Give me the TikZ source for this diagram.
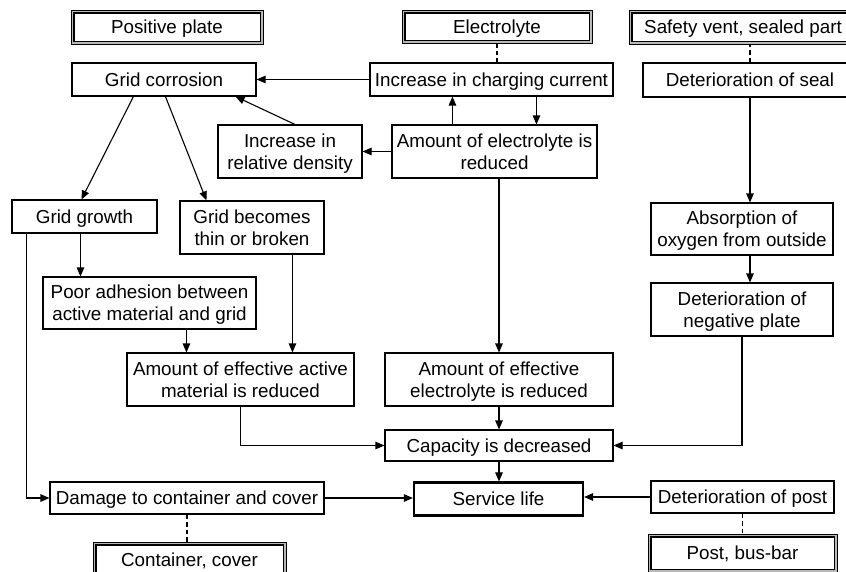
\documentclass[tikz,border=0pt]{standalone}
\usepackage{fontspec}
\setmainfont{Liberation Sans}
\usetikzlibrary{arrows.meta,calc}
\begin{document}
\begin{tikzpicture}[x=1pt,y=-1pt,
  every node/.style={font=\fontsize{18.8}{22}\selectfont, align=center, inner sep=0pt, text depth=0pt},
  box/.style={draw, line width=1.1pt, fill=white},
  dbox/.style={draw, line width=0.9pt, fill=gray!55,
    path picture={\draw[line width=1.8pt, fill=white]
      ([xshift=2.6pt,yshift=-2.6pt]path picture bounding box.north west) rectangle
      ([xshift=-2.6pt,yshift=2.6pt]path picture bounding box.south east);}},
  thickbox/.style={draw, line width=2.2pt, fill=white},
  arr/.style={line width=1.1pt, -{Triangle[length=9pt,width=7.5pt]}},
  dashlink/.style={line width=1.1pt, dash pattern=on 4.5pt off 3pt}]
\useasboundingbox (0,0) rectangle (846,571);
\clip (0,0) rectangle (846,571);
% header boxes
\node[dbox, minimum width=192, minimum height=34] (pos) at (167,27) {Positive plate};
\node[dbox, minimum width=190, minimum height=33] (elec) at (497,26.5) {Electrolyte};
\node[dbox, minimum width=228, minimum height=34] (vent) at (743,27) {Safety vent, sealed part};
\node[dbox, minimum width=193, minimum height=36] (cc) at (189.5,560) {Container, cover};
\node[dbox, minimum width=189, minimum height=38] (pbb) at (742.5,553) {Post, bus-bar};
% process boxes
\node[box, minimum width=184, minimum height=33] (gc) at (164,79.5) {Grid corrosion};
\node[box, minimum width=243, minimum height=33] (icc) at (491.5,79.5) {Increase in charging current};
\node[box, minimum width=214, minimum height=34] (seal) at (750,80) {Deterioration of seal};
\node[box, minimum width=144, minimum height=53] (ird) at (290,151.5) {Increase in\\relative density};
\node[box, minimum width=205, minimum height=53] (aer) at (494.5,151.5) {Amount of electrolyte is\\reduced};
\node[box, minimum width=145, minimum height=33] (gg) at (84.5,216.5) {Grid growth};
\node[box, minimum width=144, minimum height=53] (gtb) at (252,227.5) {Grid becomes\\thin or broken};
\node[box, minimum width=182, minimum height=52] (abs) at (742,229) {Absorption of\\oxygen from outside};
\node[box, minimum width=213, minimum height=52] (pa) at (149.5,303) {Poor adhesion between\\active material and grid};
\node[box, minimum width=182, minimum height=53] (neg) at (742,309.5) {Deterioration of\\negative plate};
\node[box, minimum width=227, minimum height=53] (eam) at (240.5,379.5) {Amount of effective active\\material is reduced};
\node[box, minimum width=228, minimum height=53] (eel) at (499,379.5) {Amount of effective\\electrolyte is reduced};
\node[box, minimum width=228, minimum height=31] (cap) at (499,445.5) {Capacity is decreased};
\node[box, minimum width=274, minimum height=32] (dmg) at (187,498) {Damage to container and cover};
\node[thickbox, minimum width=169, minimum height=33] (sl) at (498.5,499) {Service life};
\node[box, minimum width=183, minimum height=32] (dpost) at (742.5,497) {Deterioration of post};
% dashed links
\draw[dashlink] (elec.south) -- (elec.south |- icc.north);
\draw[dashlink] (seal.north) -- (seal.north |- vent.south);
\draw[dashlink] (dmg.south) -- (dmg.south |- cc.north);
\draw[dashlink] (dpost.south) -- (dpost.south |- pbb.north);
% arrows
\draw[arr] (icc.west) -- (gc.east);
\draw[arr] ($(ird.north)+(5,0)$) -- ($(gc.south east)+(-21,0)$);
\draw[arr] (aer.west) -- (ird.east);
\draw[arr] ($(aer.north west)+(61,0)$) coordinate (t1) -- (t1 |- icc.south);
\draw[arr] ($(icc.south west)+(167,0)$) coordinate (t2) -- (t2 |- aer.north);
\draw[arr] (eel.north |- aer.south) -- (eel.north);
\draw[arr] ($(gc.south west)+(62,0)$) -- ($(gg.north west)+(70,0)$);
\draw[arr] ($(gc.south west)+(94,0)$) -- ($(gtb.north west)+(27,0)$);
\draw[arr] ($(gg.south west)+(69,0)$) coordinate (t3) -- (t3 |- pa.north);
\draw[arr] ($(gg.south west)+(15,0)$) |- (dmg.west);
\draw[arr] ($(pa.south west)+(144,0)$) coordinate (t4) -- (t4 |- eam.north);
\draw[arr] ($(gtb.south west)+(113,0)$) coordinate (t5) -- (t5 |- eam.north);
\draw[arr] (eam.south) |- (cap.west);
\draw[arr] (eel.south) -- (cap.north);
\draw[arr] (cap.south) -- (cap.south |- sl.north);
\draw[arr] (dmg.east) -- (dmg.east -| sl.west);
\draw[arr] (dpost.west) -- (dpost.west -| sl.east);
\draw[arr] (neg.south) |- (cap.east);
\draw[arr] (seal.south) -- (seal.south |- abs.north);
\draw[arr] ($(abs.south)+(8,0)$) coordinate (t6) -- (t6 |- neg.north);
\end{tikzpicture}
\end{document}
